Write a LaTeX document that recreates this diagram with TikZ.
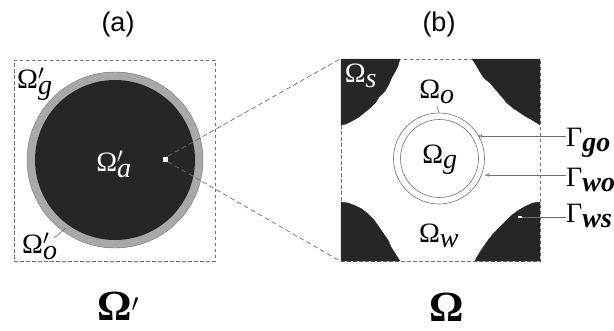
\documentclass[tikz,border=0pt]{standalone}
\usepackage{fontspec}
\setmainfont{Liberation Serif}
\newfontfamily\labsans{Liberation Sans}
\usetikzlibrary{arrows.meta}
\definecolor{blobdark}{HTML}{262626}
\definecolor{ringgray}{HTML}{A8A8A8}
\definecolor{leadgray}{HTML}{6E6E6E}
\newcommand\omlab[1]{Ω$'_{\textit{#1}}$}
\tikzset{
  framebox/.style={draw=leadgray, line width=0.7pt, dash pattern=on 3.5pt off 2.5pt, inner sep=0pt},
  zoomline/.style={draw=leadgray, line width=0.7pt, dash pattern=on 5pt off 3pt},
  blob/.style={fill=blobdark, draw=blobdark, line width=0.4pt},
  thinring/.style={circle, draw=leadgray, line width=0.6pt, inner sep=0pt},
  leader/.style={draw=leadgray, line width=0.6pt},
  omtext/.style={inner sep=0pt, font=\fontsize{28}{30}\selectfont},
  gamtext/.style={inner sep=0pt, anchor=west, font=\fontsize{28}{30}\selectfont},
  title/.style={inner sep=0pt, font=\labsans\fontsize{27}{29}\selectfont},
  bigom/.style={inner sep=0pt, font=\bfseries\fontsize{43}{45}\selectfont},
  tip/.style={-{Latex[open, length=5pt, width=3.5pt]}}
}
\begin{document}
\begin{tikzpicture}[x=1pt, y=-1pt]
\useasboundingbox (0,0) rectangle (614,330);

% ---- panel (a): the whole grain ----
\node[title] (ta) at (118,25) {(a)};
\node[framebox, minimum width=201pt, minimum height=201pt] (boxa) at (114.5,160.5) {};
\node[circle, fill=ringgray, draw=leadgray, line width=0.4pt, minimum size=176pt, inner sep=0pt] (ringa) at (115,160) {};
\node[circle, fill=blobdark, minimum size=160pt, inner sep=0pt] (corea) at (115,160) {};
\node[fill=white, minimum size=5pt, inner sep=0pt] (sq) at (165,159) {};

\node[omtext, anchor=west] (omg) at (17,84) {\omlab{g}};
\node[omtext, text=white] (oma) at (114,164) {\omlab{a}};
\node[omtext, anchor=west] (omo) at (22,246) {\omlab{o}};
\coordinate (pio) at (66,228);
\draw[leader] (54,238) -- (pio);

\node[bigom] (bigA) at (118,306) {Ω$'$};

% ---- panel (b): the pore scale ----
\node[title] (tb) at (439,25) {(b)};
\node[framebox, minimum width=199pt, minimum height=202pt] (boxb) at (440.5,160) {};

% zoom lines from the marked point to the enlarged cell
\draw[zoomline] (sq.north east) -- (boxb.north west);
\draw[zoomline] (sq.south east) -- (boxb.south west);

% solid grains in the four corners
\fill[blob] (341,59) -- (400,59) -- (398,66) -- (395,72) -- (392,77) -- (389,84) -- (385,91)
  -- (379,97) -- (376,102) -- (370,108) -- (365,112) -- (359,117) -- (352,121) -- (346,124) -- (341,125) -- cycle;
\fill[blob] (540,59) -- (472,59) -- (476,65) -- (480,72) -- (484,78) -- (490,83) -- (496,90)
  -- (502,97) -- (507,103) -- (513,108) -- (519,112) -- (525,116) -- (532,120) -- (537,123) -- (540,125) -- cycle;
\fill[blob] (341,261) -- (341,202) -- (348,203) -- (356,206) -- (362,209) -- (368,214) -- (374,220)
  -- (379,227) -- (383,233) -- (388,240) -- (391,247) -- (395,253) -- (398,258) -- (400,261) -- cycle;
\fill[blob] (540,261) -- (540,202) -- (533,203) -- (526,206) -- (519,210) -- (512,215) -- (506,221)
  -- (500,227) -- (494,233) -- (489,239) -- (484,246) -- (480,252) -- (477,257) -- (475,261) -- cycle;

% gas bubble with its oil film
\node[thinring, minimum size=91pt] (outerb) at (439,158.5) {};
\node[thinring, minimum size=78pt] (innerb) at (439.5,158.5) {};

\node[omtext, text=white] (oms) at (361,76) {Ω$_{\textit{s}}$};
\node[omtext] (omob) at (437,92) {Ω$_{\textit{o}}$};
\node[omtext] (omgb) at (440,160) {Ω$_{\textit{g}}$};
\node[omtext] (omw) at (439,236) {Ω$_{\textit{w}}$};
\draw[leader] (437,106) -- (outerb.north);

% interfaces
\node[gamtext] (ggo) at (566,143) {Γ$_{\textit{\textbf{go}}}$};
\node[gamtext] (gwo) at (566,180) {Γ$_{\textit{\textbf{wo}}}$};
\node[gamtext] (gws) at (566,216) {Γ$_{\textit{\textbf{ws}}}$};
\coordinate (mgo) at (477,136);
\coordinate (mwo) at (484,175);
\node[fill=white, minimum width=4pt, minimum height=2.5pt, inner sep=0pt] (mws) at (520,217) {};
\draw[leader, tip] (ggo.west |- mgo) -- (mgo);
\draw[leader, tip] (gwo.west |- mwo) -- (mwo);
\draw[leader] (gws.west |- mws) -- (mws.east);

\node[bigom] (bigB) at (447,307) {Ω};
\end{tikzpicture}
\end{document}
